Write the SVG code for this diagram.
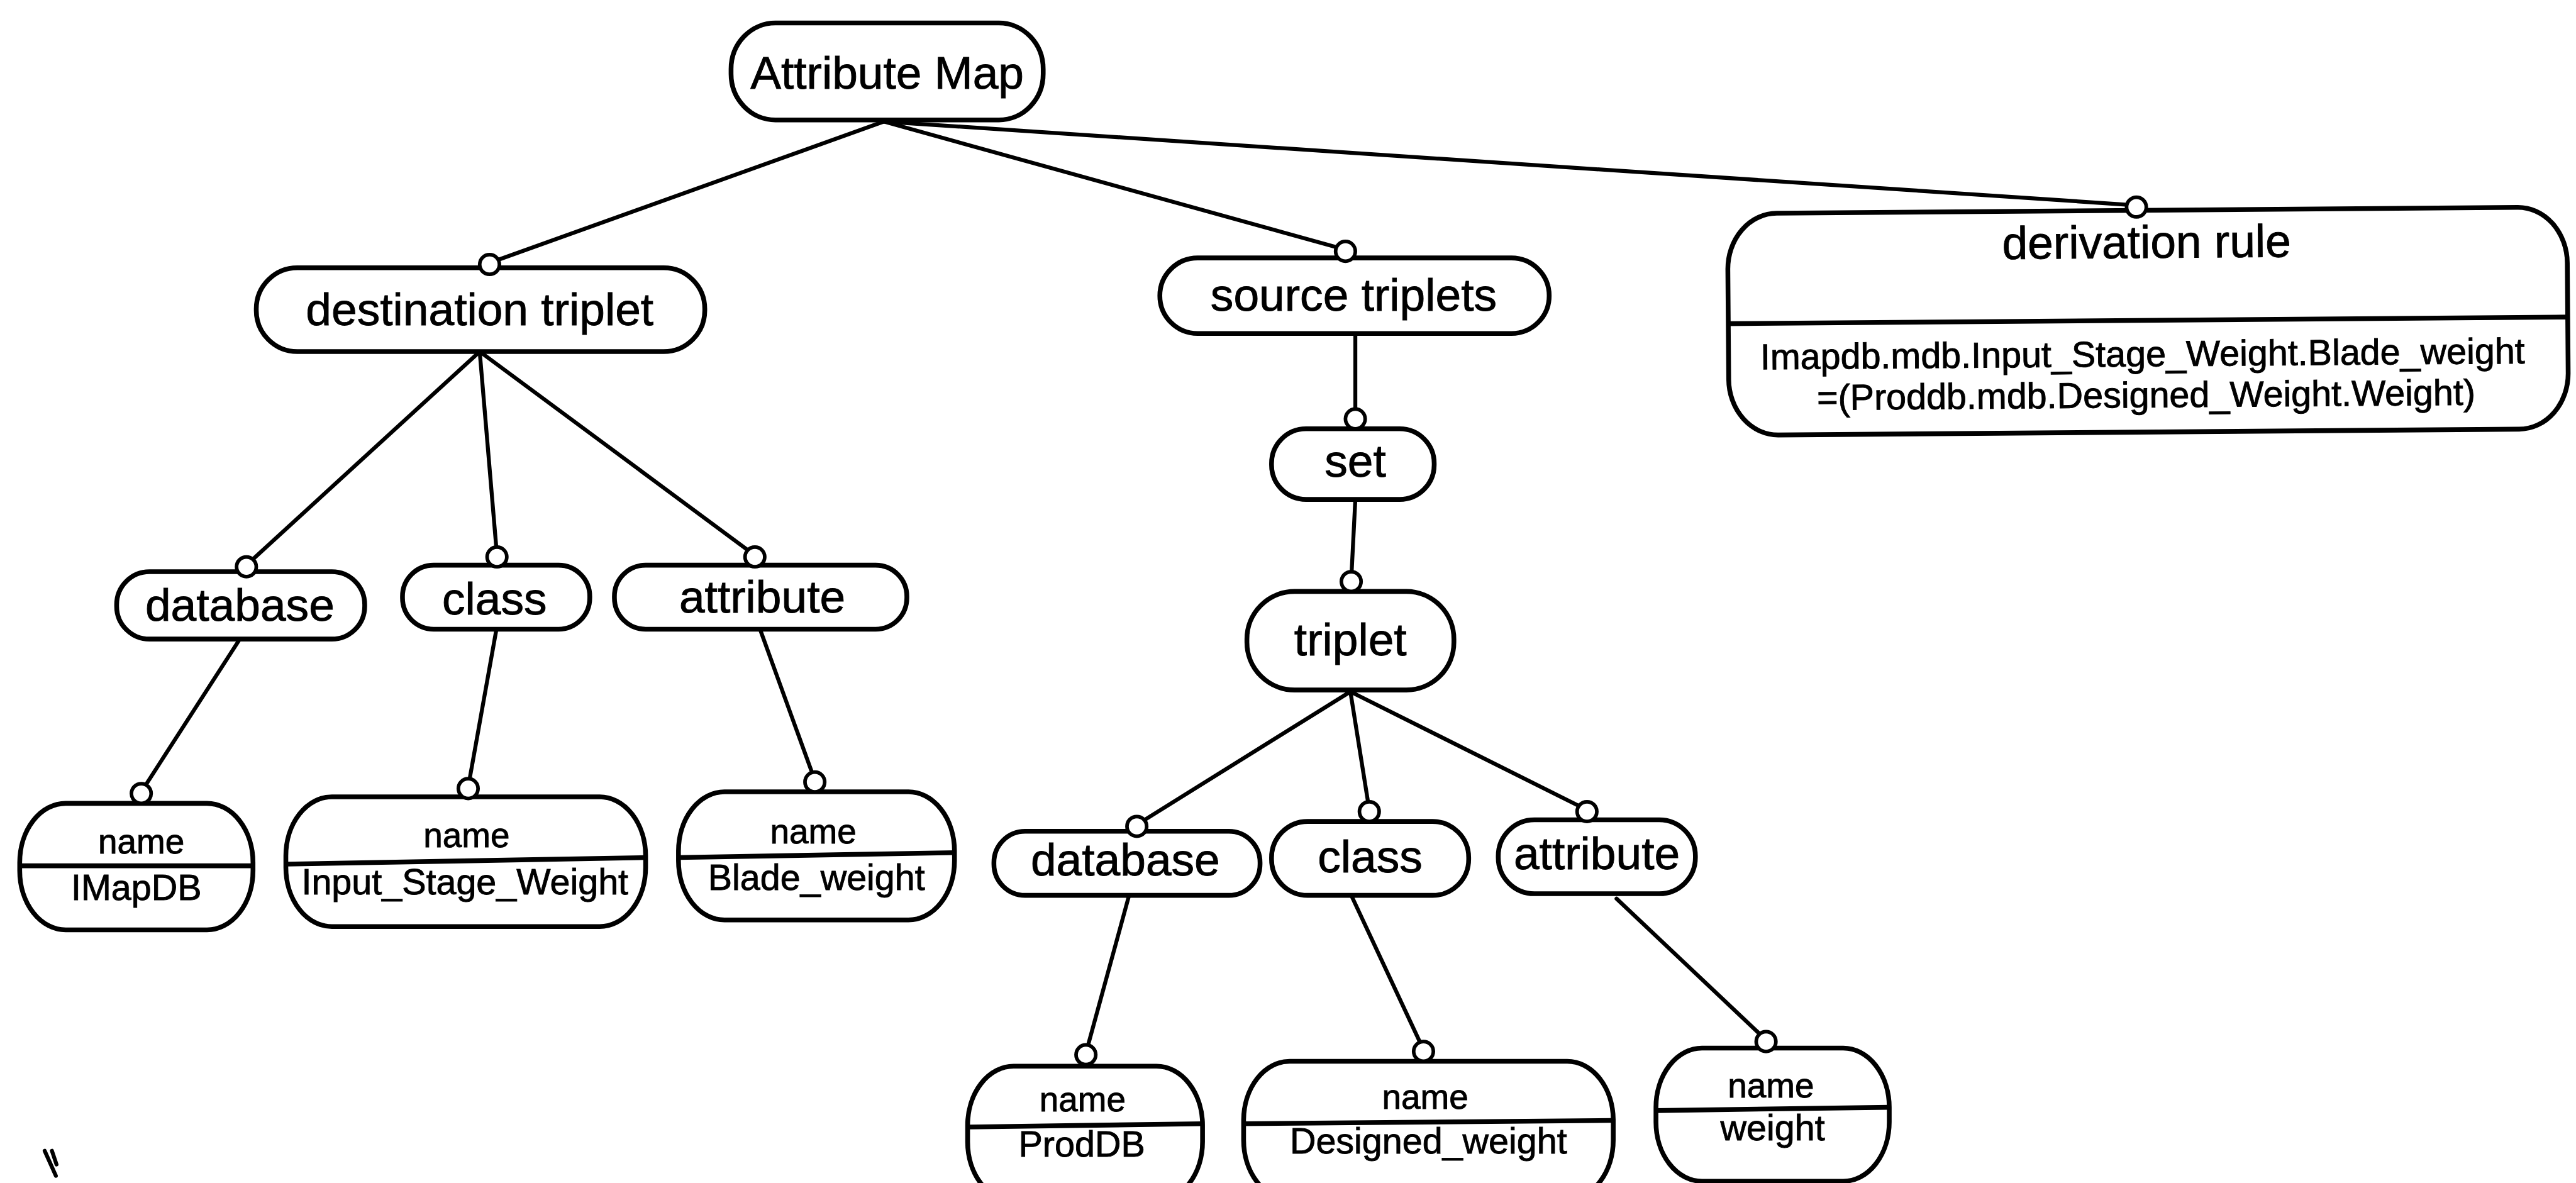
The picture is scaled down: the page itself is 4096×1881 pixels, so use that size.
<svg xmlns="http://www.w3.org/2000/svg" width="4096" height="1881" viewBox="0 0 4096 1881">
  <style>
    .node { fill: #fff; stroke: #000; stroke-width: 2.9; }
    .div { fill: none; stroke: #000; stroke-width: 2.9; }
    .edge { fill: none; stroke: #000; stroke-width: 2.4; stroke-linecap: round; }
    .port { fill: #fff; stroke: #000; stroke-width: 2.2; }
    text { font-family: "Liberation Sans", Arial, sans-serif; fill: #000; stroke: #000; stroke-width: 0.35; text-anchor: middle; }
    .lbl { font-size: 28px; }
    .nm { font-size: 21px; }
    .val { font-size: 22px; }
    .rule { font-size: 22px; }
  </style>
  <rect width="4096" height="1881" fill="#fff"/>
  <!-- layout drawn in a 1568 x 720 grid, scaled up to the canvas -->
  <g transform="scale(2.6122)">
    <g id="connectors">
      <path class="edge" d="M538 74 L298 160"/>
      <path class="edge" d="M538 74 L819 152"/>
      <path class="edge" d="M538 74 L1301 125"/>
      <path class="edge" d="M292 214 L150 344"/>
      <path class="edge" d="M292 214 L302.5 338"/>
      <path class="edge" d="M292 214 L459.5 338"/>
      <path class="edge" d="M146 389 L86 482"/>
      <path class="edge" d="M302 384 L285 479"/>
      <path class="edge" d="M463 384 L496 475"/>
      <path class="edge" d="M825 203 L825 254"/>
      <path class="edge" d="M825 304 L822.5 353"/>
      <path class="edge" d="M822 421 L692 502"/>
      <path class="edge" d="M822 421 L833.5 493"/>
      <path class="edge" d="M822 421 L966 493"/>
      <path class="edge" d="M687 546 L661 641"/>
      <path class="edge" d="M823 546 L866.5 639"/>
      <path class="edge" d="M984 547 L1075 633"/>
    </g>

    <g id="attribute-map">
      <rect class="node" x="445" y="14" width="190" height="59" rx="27" ry="28"/>
      <text class="lbl" x="540" y="54">Attribute Map</text>
    </g>

    <g id="destination-triplet">
      <rect class="node" x="156" y="163" width="273" height="51" rx="25" ry="25"/>
      <text class="lbl" x="292" y="198">destination triplet</text>
      <circle class="port" cx="298" cy="161" r="6"/>
    </g>

    <g id="source-triplets">
      <rect class="node" x="706" y="157" width="237" height="46" rx="23" ry="23"/>
      <text class="lbl" x="824" y="189">source triplets</text>
      <circle class="port" cx="819" cy="153" r="6"/>
    </g>

    <g id="derivation-rule" transform="rotate(-0.45 1307 195)">
      <rect class="node" x="1052" y="128" width="511" height="135" rx="30" ry="34"/>
      <line class="div" x1="1052" y1="195" x2="1563" y2="195"/>
      <text class="lbl" x="1307" y="157">derivation rule</text>
      <text class="rule" x="1304" y="223">Imapdb.mdb.Input_Stage_Weight.Blade_weight</text>
      <text class="rule" x="1306" y="248">=(Proddb.mdb.Designed_Weight.Weight)</text>
      <circle class="port" cx="1301" cy="126" r="6"/>
    </g>

    <g id="set">
      <rect class="node" x="774" y="261" width="99" height="43" rx="21" ry="21"/>
      <text class="lbl" x="825" y="290">set</text>
      <circle class="port" cx="825" cy="255" r="6"/>
    </g>

    <g id="triplet">
      <rect class="node" x="759" y="360" width="126" height="60" rx="29" ry="29"/>
      <text class="lbl" x="822" y="399">triplet</text>
      <circle class="port" cx="822.5" cy="354" r="6"/>
    </g>

    <g id="dest-database">
      <rect class="node" x="71" y="348" width="151" height="41" rx="20" ry="20"/>
      <text class="lbl" x="146" y="378">database</text>
      <circle class="port" cx="150" cy="345" r="6"/>
    </g>

    <g id="dest-class">
      <rect class="node" x="245" y="344" width="114" height="39" rx="19" ry="19"/>
      <text class="lbl" x="301" y="374">class</text>
      <circle class="port" cx="302.5" cy="339" r="6"/>
    </g>

    <g id="dest-attribute">
      <rect class="node" x="374" y="344" width="178" height="39" rx="19" ry="19"/>
      <text class="lbl" x="464" y="373">attribute</text>
      <circle class="port" cx="459.5" cy="339" r="6"/>
    </g>

    <g id="dest-database-name">
      <rect class="node" x="12" y="489" width="142" height="77" rx="28" ry="36"/>
      <line class="div" x1="12" y1="527" x2="154" y2="527"/>
      <text class="nm" x="86" y="519.5">name</text>
      <text class="val" x="83" y="548">IMapDB</text>
      <circle class="port" cx="86" cy="483" r="6"/>
    </g>

    <g id="dest-class-name">
      <rect class="node" x="174" y="485" width="219" height="79" rx="28" ry="36"/>
      <line class="div" x1="174" y1="526" x2="393" y2="522"/>
      <text class="nm" x="284" y="515.5">name</text>
      <text class="val" x="283" y="544.5">Input_Stage_Weight</text>
      <circle class="port" cx="285" cy="480" r="6"/>
    </g>

    <g id="dest-attribute-name">
      <rect class="node" x="413" y="482" width="168" height="78" rx="28" ry="36"/>
      <line class="div" x1="413" y1="522" x2="581" y2="519"/>
      <text class="nm" x="495" y="513.5">name</text>
      <text class="val" x="497" y="541.5">Blade_weight</text>
      <circle class="port" cx="496" cy="476" r="6"/>
    </g>

    <g id="src-database">
      <rect class="node" x="605" y="506" width="162" height="39" rx="19" ry="19"/>
      <text class="lbl" x="685" y="533">database</text>
      <circle class="port" cx="692" cy="503" r="6"/>
    </g>

    <g id="src-class">
      <rect class="node" x="774" y="500" width="120" height="45" rx="22" ry="22"/>
      <text class="lbl" x="834" y="531">class</text>
      <circle class="port" cx="833.5" cy="494" r="6"/>
    </g>

    <g id="src-attribute">
      <rect class="node" x="912" y="499" width="120" height="45" rx="22" ry="22"/>
      <text class="lbl" x="972" y="529">attribute</text>
      <circle class="port" cx="966" cy="494" r="6"/>
    </g>

    <g id="src-database-name">
      <rect class="node" x="589" y="649" width="143" height="82" rx="28" ry="36"/>
      <line class="div" x1="589" y1="686" x2="732" y2="684"/>
      <text class="nm" x="659" y="676.5">name</text>
      <text class="val" x="658.5" y="704">ProdDB</text>
      <circle class="port" cx="661" cy="642" r="6"/>
    </g>

    <g id="src-class-name">
      <rect class="node" x="757" y="646" width="225" height="84" rx="28" ry="36"/>
      <line class="div" x1="757" y1="684" x2="982" y2="682"/>
      <text class="nm" x="867.5" y="675">name</text>
      <text class="val" x="869.5" y="702">Designed_weight</text>
      <circle class="port" cx="866.5" cy="640" r="6"/>
    </g>

    <g id="src-attribute-name">
      <rect class="node" x="1008" y="638" width="142" height="81" rx="28" ry="36"/>
      <line class="div" x1="1008" y1="676" x2="1150" y2="674"/>
      <text class="nm" x="1078" y="668">name</text>
      <text class="val" x="1079" y="694">weight</text>
      <circle class="port" cx="1075" cy="634" r="6"/>
    </g>

    <!-- stray pen mark near the lower left corner -->
    <path class="edge" d="M27.2 700.5 L34 715.7 M31.6 700.5 L34.4 708.8"/>
  </g>
</svg>
